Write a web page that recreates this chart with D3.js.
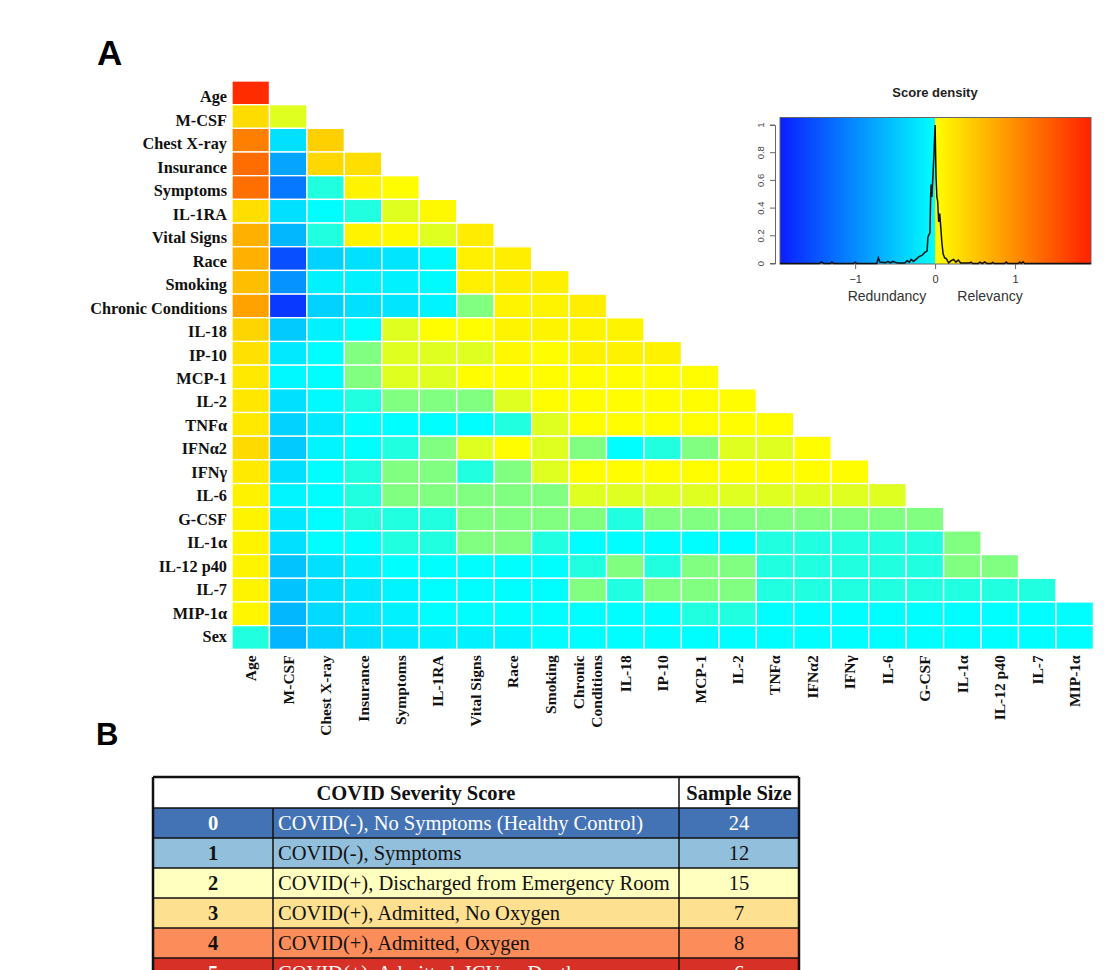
<!DOCTYPE html>
<html><head><meta charset="utf-8">
<script src="https://cdn.jsdelivr.net/npm/d3@7"></script>
<style>body{margin:0;background:#fff;} svg{display:block;}</style>
</head><body>
<svg id="chart" width="1106" height="970"></svg>
<script>
// ---------- DATA ----------
const rowLabels = ["Age","M-CSF","Chest X-ray","Insurance","Symptoms","IL-1RA","Vital Signs","Race","Smoking","Chronic Conditions","IL-18","IP-10","MCP-1","IL-2","TNFα","IFNα2","IFNγ","IL-6","G-CSF","IL-1α","IL-12 p40","IL-7","MIP-1α","Sex"];
const colLabels = rowLabels.slice(0, 23);

// score matrix (lower triangle): diagonal = relevancy, off-diagonal = redundancy
const scores = [
  [1.85],
  [0.36, 0.045],
  [1.14, -0.31, 0.46],
  [1.30, -0.82, 0.39, 0.34],
  [1.28, -1.20, -0.045, 0.16, 0.08],
  [0.34, -0.31, -0.08, -0.045, 0.045, 0.11],
  [0.73, -0.66, -0.045, 0.16, 0.11, 0.045, 0.22],
  [0.73, -1.52, -0.44, -0.31, -0.28, -0.11, 0.19, 0.20],
  [0.61, -0.95, -0.18, -0.18, -0.18, -0.09, 0.19, 0.20, 0.19],
  [0.85, -1.72, -0.44, -0.31, -0.28, -0.15, 0, 0.15, 0.15, 0.20],
  [0.42, -0.50, -0.18, -0.08, 0.045, 0.08, 0.08, 0.15, 0.15, 0.15, 0.15],
  [0.32, -0.24, -0.08, 0, 0.045, 0.045, 0.045, 0.12, 0.08, 0.17, 0.17, 0.17],
  [0.25, -0.12, -0.08, 0, 0.045, 0.045, 0.08, 0.08, 0.08, 0.08, 0.08, 0.08, 0.08],
  [0.26, -0.31, -0.10, -0.045, 0, 0, 0, 0.045, 0.08, 0.08, 0.08, 0.08, 0.08, 0.08],
  [0.25, -0.44, -0.24, -0.08, -0.08, -0.08, -0.08, -0.045, 0.045, 0.08, 0.08, 0.08, 0.08, 0.08, 0.08],
  [0.37, -0.50, -0.14, -0.08, -0.045, 0, 0.045, 0.08, 0.045, 0, -0.08, -0.045, 0, 0.045, 0.045, 0.08],
  [0.24, -0.31, -0.08, -0.045, 0, 0, -0.045, 0, 0.045, 0.08, 0.08, 0.08, 0.08, 0.08, 0.08, 0.08, 0.08],
  [0.17, -0.14, -0.08, -0.045, 0, 0, 0, 0, 0, 0.045, 0.045, 0.045, 0.045, 0.045, 0.045, 0.045, 0.045, 0.045],
  [0.15, -0.24, -0.08, -0.045, -0.045, -0.045, 0, 0, 0, 0, -0.045, 0, 0, 0, 0, 0, 0, 0, 0],
  [0.15, -0.31, -0.08, -0.08, -0.045, -0.045, 0, 0, -0.045, -0.08, -0.08, -0.08, -0.08, -0.08, -0.045, -0.045, -0.045, -0.045, -0.045, 0],
  [0.15, -0.56, -0.31, -0.18, -0.08, -0.08, -0.08, -0.08, -0.08, -0.045, 0, -0.045, 0, 0, -0.045, -0.045, -0.045, -0.045, -0.045, 0, 0],
  [0.15, -0.56, -0.31, -0.24, -0.15, -0.08, -0.08, -0.08, -0.08, 0, -0.045, 0, 0, 0, -0.045, -0.045, -0.045, -0.045, -0.045, -0.045, -0.045, -0.045],
  [0.14, -0.66, -0.37, -0.24, -0.18, -0.08, -0.08, -0.08, -0.08, -0.08, -0.08, -0.08, -0.045, -0.045, -0.08, -0.08, -0.08, -0.08, -0.08, -0.08, -0.08, -0.08, -0.08],
  [-0.045, -0.69, -0.44, -0.31, -0.24, -0.18, -0.18, -0.15, -0.08, -0.08, -0.08, -0.08, -0.08, -0.08, -0.08, -0.08, -0.08, -0.08, -0.08, -0.08, -0.08, -0.08, -0.08]
];

// score density curve
const densityX = [-1.94,-1.45,-1.42,-1.39,-1.31,-1.29,-1.27,-1.02,-1.0,-0.98,-0.73,-0.71,-0.69,-0.62,-0.59,-0.56,-0.53,-0.5,-0.47,-0.38,-0.35,-0.32,-0.3,-0.27,-0.24,-0.2,-0.16,-0.13,-0.1,-0.09,-0.075,-0.065,-0.055,-0.05,-0.04,-0.03,-0.015,0,0.012,0.022,0.032,0.045,0.058,0.07,0.085,0.1,0.12,0.14,0.17,0.2,0.23,0.26,0.29,0.32,0.43,0.45,0.47,0.54,0.56,0.59,0.62,0.65,0.7,0.72,0.74,0.87,0.89,0.91,1.04,1.06,1.08,1.1,1.12,1.95];
const densityY = [0,0,0.012,0,0,0.01,0,0,0.01,0,0,0.04,0.01,0.005,0.015,0.005,0.015,0.01,0.003,0.003,0.02,0.01,0.03,0.015,0.03,0.05,0.06,0.08,0.09,0.19,0.21,0.22,0.5,0.57,0.48,0.6,0.78,1.0,0.62,0.48,0.45,0.3,0.36,0.27,0.15,0.07,0.04,0.035,0.005,0.02,0.03,0.01,0.025,0.003,0.003,0.01,0,0,0.01,0,0.012,0,0,0.008,0,0,0.01,0,0,0.01,0,0.012,0,0];
const densityYTicks = [0, 0.2, 0.4, 0.6, 0.8, 1];
const densityXTicks = [-1, 0, 1];

// table B
const severityScores = ["0","1","2","3","4","5"];
const severityLabels = ["COVID(-), No Symptoms (Healthy Control)","COVID(-), Symptoms","COVID(+), Discharged from Emergency Room","COVID(+), Admitted, No Oxygen","COVID(+), Admitted, Oxygen","COVID(+), Admitted, ICU or Death"];
const sampleSizes = [24, 12, 15, 7, 8, 6];
const rowFill = ["#4473b5","#92bfdc","#ffffc0","#fee091","#fc8d5a","#d73027"];
const rowText = ["#ffffff","#111","#111","#111","#111","#ffffff"];

// ---------- CHART ----------
const svg = d3.select("#chart");
const serif = "'Liberation Serif','Times New Roman',serif";
const sans = "'Liberation Sans',Arial,sans-serif";

const color = d3.scaleLinear()
  .domain([-1.94, -0.06, 0, 0.06, 1.95])
  .range(["#0a1eff", "#00ffff", "#80ff80", "#ffff00", "#ff2000"])
  .clamp(true);

// panel letters
svg.append("text").attr("x", 97).attr("y", 65).text("A")
  .attr("font-family", sans).attr("font-weight", "bold").attr("font-size", 35);
svg.append("text").attr("x", 96).attr("y", 745).text("B")
  .attr("font-family", sans).attr("font-weight", "bold").attr("font-size", 31);

// heatmap
const x = d3.scaleBand().domain(colLabels).range([232, 1093.4]);
const y = d3.scaleBand().domain(rowLabels).range([81, 649.3]);
const yLab = d3.scaleBand().domain(rowLabels).range([85.3, 648.8]);

const cells = [];
scores.forEach((row, i) => row.forEach((v, j) => cells.push({r: rowLabels[i], c: colLabels[j], v})));

svg.append("g").selectAll("rect").data(cells).join("rect")
  .attr("x", d => x(d.c)).attr("y", d => y(d.r))
  .attr("width", x.bandwidth()).attr("height", y.bandwidth())
  .attr("fill", d => color(d.v))
  .attr("stroke", "#ffffff").attr("stroke-width", 1.3);

// row labels
const ya = svg.append("g").attr("transform", "translate(232,0)")
  .call(d3.axisLeft(yLab).tickSize(0).tickPadding(5));
ya.select(".domain").remove();
ya.selectAll("text").attr("font-family", serif).attr("font-weight", "bold")
  .attr("font-size", 16.3).attr("fill", "#111");

// column labels
const xa = svg.append("g").attr("transform", "translate(0,649.3)")
  .call(d3.axisBottom(x).tickSize(0));
xa.select(".domain").remove();
xa.selectAll("text")
  .attr("font-family", serif).attr("font-weight", "bold").attr("font-size", 15.5).attr("fill", "#111")
  .attr("transform", "rotate(-90)").attr("text-anchor", "end")
  .attr("x", -6).attr("y", 0).attr("dy", "0.35em");
xa.selectAll("text").filter(d => d === "Chronic Conditions").each(function() {
  const t = d3.select(this).text(null).attr("dy", null);
  t.append("tspan").attr("x", -6).attr("dy", -3.5).text("Chronic");
  t.append("tspan").attr("x", -6).attr("dy", 18).text("Conditions");
});

// ---------- density inset ----------
const dx = d3.scaleLinear().domain([-1.94, 1.95]).range([780, 1091]);
const dy = d3.scaleLinear().domain([0, 1]).range([263.5, 125]);
const boxTop = 117.5, boxBot = 264;

const defs = svg.append("defs");
const grad = defs.append("linearGradient").attr("id", "densGrad")
  .attr("x1", "0%").attr("x2", "100%").attr("y1", "0%").attr("y2", "0%");
const gstops = [[-1.94, color(-1.94)], [-0.004, color(-0.06)], [0.004, color(0.06)], [1.95, color(1.95)]];
const span = dx.domain()[1] - dx.domain()[0];
gstops.forEach(([v, c]) => grad.append("stop")
  .attr("offset", ((v - dx.domain()[0]) / span * 100) + "%").attr("stop-color", c));

svg.append("rect").attr("x", dx.range()[0]).attr("y", boxTop)
  .attr("width", dx.range()[1] - dx.range()[0]).attr("height", boxBot - boxTop)
  .attr("fill", "url(#densGrad)").attr("stroke", "#666").attr("stroke-width", 1);

svg.append("path")
  .datum(densityX.map((v, i) => [v, densityY[i]]))
  .attr("d", d3.line().x(d => dx(d[0])).y(d => dy(d[1])))
  .attr("fill", "none").attr("stroke", "#111").attr("stroke-width", 1.5);

svg.append("text").attr("x", 935).attr("y", 97).attr("text-anchor", "middle")
  .attr("font-family", sans).attr("font-weight", "bold").attr("font-size", 13).attr("fill", "#222")
  .text("Score density");

// y axis
const yAx = svg.append("g").attr("transform", "translate(775,0)")
  .call(d3.axisLeft(dy).tickValues(densityYTicks).tickSize(5).tickPadding(3).tickFormat(d3.format("")));
yAx.select(".domain").attr("stroke", "#666");
yAx.selectAll(".tick line").attr("stroke", "#666");
yAx.selectAll("text").attr("font-family", sans).attr("font-size", 9.5).attr("fill", "#444")
  .attr("transform", d => `rotate(-90,-14,${dy(d)})`).attr("x", -14).attr("text-anchor", "middle")
  .attr("dy", "0.35em").attr("y", d => dy(d));
yAx.selectAll(".tick").attr("transform", null);
yAx.selectAll(".tick line").attr("y1", d => dy(d)).attr("y2", d => dy(d));

// x axis
const xAx = svg.append("g").attr("transform", `translate(0,${boxBot})`)
  .call(d3.axisBottom(dx).tickValues(densityXTicks).tickSize(5).tickPadding(6).tickFormat(d3.format("")));
xAx.select(".domain").remove();
xAx.selectAll(".tick line").attr("stroke", "#666");
xAx.selectAll("text").attr("font-family", sans).attr("font-size", 11).attr("fill", "#333");

svg.append("text").attr("x", 887).attr("y", 301).attr("text-anchor", "middle")
  .attr("font-family", sans).attr("font-size", 14).attr("fill", "#333").text("Redundancy");
svg.append("text").attr("x", 990).attr("y", 301).attr("text-anchor", "middle")
  .attr("font-family", sans).attr("font-size", 14).attr("fill", "#333").text("Relevancy");

// ---------- table B ----------
const colEdges = [153, 273, 679, 799];
const headTop = 777, headH = 31, rowH = 30;
const fs = 20.5;
const ty = d3.scaleBand().domain(severityScores).range([headTop + headH, headTop + headH + rowH * severityScores.length]);

const tb = svg.append("g");
tb.append("rect").attr("x", colEdges[0]).attr("y", headTop).attr("width", colEdges[3] - colEdges[0]).attr("height", headH)
  .attr("fill", "#fff");
tb.selectAll("rect.row").data(severityScores).join("rect").attr("class", "row")
  .attr("x", colEdges[0]).attr("y", d => ty(d)).attr("width", colEdges[3] - colEdges[0]).attr("height", ty.bandwidth())
  .attr("fill", (d, i) => rowFill[i]);

// header text
tb.append("text").attr("x", (colEdges[0] + colEdges[2]) / 2).attr("y", headTop + headH / 2).attr("dy", "0.35em")
  .attr("text-anchor", "middle").attr("font-family", serif).attr("font-weight", "bold").attr("font-size", fs)
  .attr("fill", "#111").text("COVID Severity Score");
tb.append("text").attr("x", (colEdges[2] + colEdges[3]) / 2).attr("y", headTop + headH / 2).attr("dy", "0.35em")
  .attr("text-anchor", "middle").attr("font-family", serif).attr("font-weight", "bold").attr("font-size", fs)
  .attr("fill", "#111").text("Sample Size");

// body text
tb.selectAll("text.score").data(severityScores).join("text").attr("class", "score")
  .attr("x", (colEdges[0] + colEdges[1]) / 2).attr("y", d => ty(d) + rowH / 2).attr("dy", "0.35em")
  .attr("text-anchor", "middle").attr("font-family", serif).attr("font-weight", "bold").attr("font-size", fs)
  .attr("fill", (d, i) => rowText[i]).text(d => d);
tb.selectAll("text.lab").data(severityLabels).join("text").attr("class", "lab")
  .attr("x", colEdges[1] + 5).attr("y", (d, i) => ty(severityScores[i]) + rowH / 2).attr("dy", "0.35em")
  .attr("font-family", serif).attr("font-size", fs)
  .attr("fill", (d, i) => rowText[i]).text(d => d);
tb.selectAll("text.n").data(sampleSizes).join("text").attr("class", "n")
  .attr("x", (colEdges[2] + colEdges[3]) / 2).attr("y", (d, i) => ty(severityScores[i]) + rowH / 2).attr("dy", "0.35em")
  .attr("text-anchor", "middle").attr("font-family", serif).attr("font-size", fs)
  .attr("fill", (d, i) => rowText[i]).text(d => d);

// grid lines
const tableBottom = headTop + headH + rowH * severityScores.length;
const hLines = [headTop, headTop + headH].concat(severityScores.map(d => ty(d) + rowH));
tb.selectAll("line.h").data(hLines).join("line").attr("class", "h")
  .attr("x1", colEdges[0]).attr("x2", colEdges[3]).attr("y1", d => d).attr("y2", d => d)
  .attr("stroke", "#111").attr("stroke-width", (d, i) => i === 0 ? 2.5 : 1.5);
tb.append("line").attr("x1", colEdges[0]).attr("x2", colEdges[0]).attr("y1", headTop).attr("y2", tableBottom)
  .attr("stroke", "#111").attr("stroke-width", 2.5);
tb.append("line").attr("x1", colEdges[3]).attr("x2", colEdges[3]).attr("y1", headTop).attr("y2", tableBottom)
  .attr("stroke", "#111").attr("stroke-width", 2.5);
tb.append("line").attr("x1", colEdges[2]).attr("x2", colEdges[2]).attr("y1", headTop).attr("y2", tableBottom)
  .attr("stroke", "#111").attr("stroke-width", 1.5);
tb.append("line").attr("x1", colEdges[1]).attr("x2", colEdges[1]).attr("y1", headTop + headH).attr("y2", tableBottom)
  .attr("stroke", "#111").attr("stroke-width", 1.5);
</script>
</body></html>
